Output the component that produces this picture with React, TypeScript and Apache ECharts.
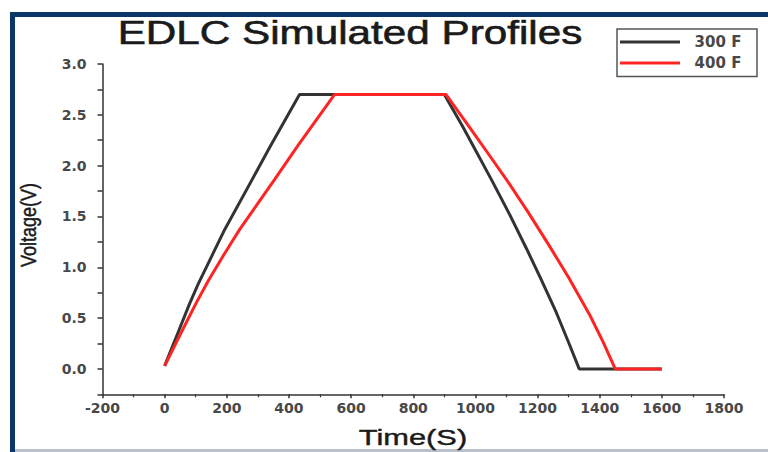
import React, { useEffect, useRef } from "react";
import * as echarts from "echarts";

const seriesNames = ["300 F", "400 F"];
// [time (s), voltage (V)]
const black300: [number, number][] = [
  [0, 0.03], [46, 0.38], [80, 0.64], [107, 0.83], [150, 1.1], [193, 1.37], [281, 1.86],
  [340, 2.19], [434, 2.7],
  [900, 2.7], [960, 2.38], [1052, 1.86], [1110, 1.52], [1165, 1.18], [1210, 0.89],
  [1261, 0.55], [1300, 0.26], [1334, 0], [1600, 0],
];
const red400: [number, number][] = [
  [0, 0.03], [57, 0.38], [100, 0.64], [139, 0.86], [190, 1.12], [241, 1.37], [353, 1.86],
  [427, 2.19], [547, 2.7],
  [905, 2.7], [990, 2.34], [1050, 2.08], [1105, 1.84], [1170, 1.54], [1234, 1.23],
  [1300, 0.9], [1368, 0.53], [1410, 0.27], [1450, 0], [1600, 0],
];
const xMin = -200, xMax = 1800, xStep = 200;
const yMin = -0.25, yMax = 3, yStep = 0.25;
const titleText = "EDLC Simulated Profiles";
const xName = "Time(S)";
const yName = "Voltage(V)";

export default function App() {
  const ref = useRef<HTMLDivElement>(null);
  useEffect(() => {
    if (!ref.current) return;
    const chart = echarts.init(ref.current, undefined, { renderer: "svg" });
    const axisColor = "#333";
    const labelStyle = {
      fontFamily: "DejaVu Sans",
      fontWeight: "bold" as const,
      fontSize: 14,
      color: "#484848",
    };
    const nameStyle = {
      fontFamily: "Liberation Sans",
      fill: "#1a1a1a",
      stroke: "#1a1a1a",
      lineWidth: 0.6,
      textAlign: "center",
      textVerticalAlign: "middle",
    };
    chart.setOption({
      animation: false,
      backgroundColor: "#fff",
      grid: { left: 102.5, right: 44, top: 64, bottom: 57.7 },
      graphic: [
        { type: "rect", shape: { x: 10, y: 12, width: 758, height: 5 }, style: { fill: "#0b3768" } },
        { type: "rect", shape: { x: 10, y: 12, width: 5, height: 440 }, style: { fill: "#0b3768" } },
        { type: "rect", shape: { x: 15, y: 449, width: 753, height: 3 }, style: { fill: "#b8c0cc" } },
        {
          type: "text", x: 350, y: 33, scaleX: 1.28,
          style: { ...nameStyle, text: titleText, fontSize: 33 },
        },
        {
          type: "text", x: 413, y: 438, scaleX: 1.4,
          style: { ...nameStyle, text: xName, fontSize: 22, lineWidth: 0.4 },
        },
        {
          type: "text", x: 28, y: 225, rotation: Math.PI / 2, scaleY: 1.2,
          style: { ...nameStyle, text: yName, fontSize: 18, lineWidth: 0.4 },
        },
      ],
      legend: {
        orient: "vertical",
        right: 11,
        top: 29,
        data: seriesNames,
        icon: "rect",
        itemWidth: 60,
        itemHeight: 3,
        itemGap: 6,
        padding: [5.5, 6, 6, 3],
        borderColor: "#555",
        borderWidth: 1.5,
        formatter: (name: string) => `{t|${name}}`,
        textStyle: {
          ...labelStyle,
          fontSize: 15,
          rich: {
            t: { ...labelStyle, fontSize: 15, width: 66, lineHeight: 17, align: "center" },
          },
        },
      },
      xAxis: {
        type: "value",
        min: xMin,
        max: xMax,
        interval: xStep,
        splitLine: { show: false },
        axisLine: { onZero: false, lineStyle: { color: axisColor, width: 1.5 } },
        axisTick: { length: 4, lineStyle: { color: axisColor, width: 1.5 } },
        minorTick: { show: true, splitNumber: 2, length: 3, lineStyle: { color: axisColor, width: 1.2 } },
        axisLabel: { ...labelStyle, margin: 7, formatter: (v: number) => String(v) },
      },
      yAxis: {
        type: "value",
        min: yMin,
        max: yMax,
        interval: yStep,
        splitLine: { show: false },
        axisLine: { onZero: false, lineStyle: { color: axisColor, width: 1.5 } },
        axisTick: { length: 5, lineStyle: { color: axisColor, width: 1.5 } },
        axisLabel: {
          ...labelStyle,
          margin: 16,
          formatter: (v: number) => {
            const r = Math.round(v * 100) / 100;
            if (r < 0) return "";
            return Math.abs(r * 2 - Math.round(r * 2)) < 1e-6 ? r.toFixed(1) : "";
          },
        },
      },
      series: [
        {
          name: seriesNames[0], type: "line", data: black300, showSymbol: false,
          lineStyle: { color: "#333", width: 3 }, itemStyle: { color: "#333" },
        },
        {
          name: seriesNames[1], type: "line", data: red400, showSymbol: false,
          lineStyle: { color: "#ff2424", width: 3 }, itemStyle: { color: "#ff2424" },
        },
      ],
    });
    return () => chart.dispose();
  }, []);
  return (
    <div
      ref={ref}
      style={{ position: "fixed", left: 0, top: 0, width: 768, height: 452, background: "#fff" }}
    />
  );
}
